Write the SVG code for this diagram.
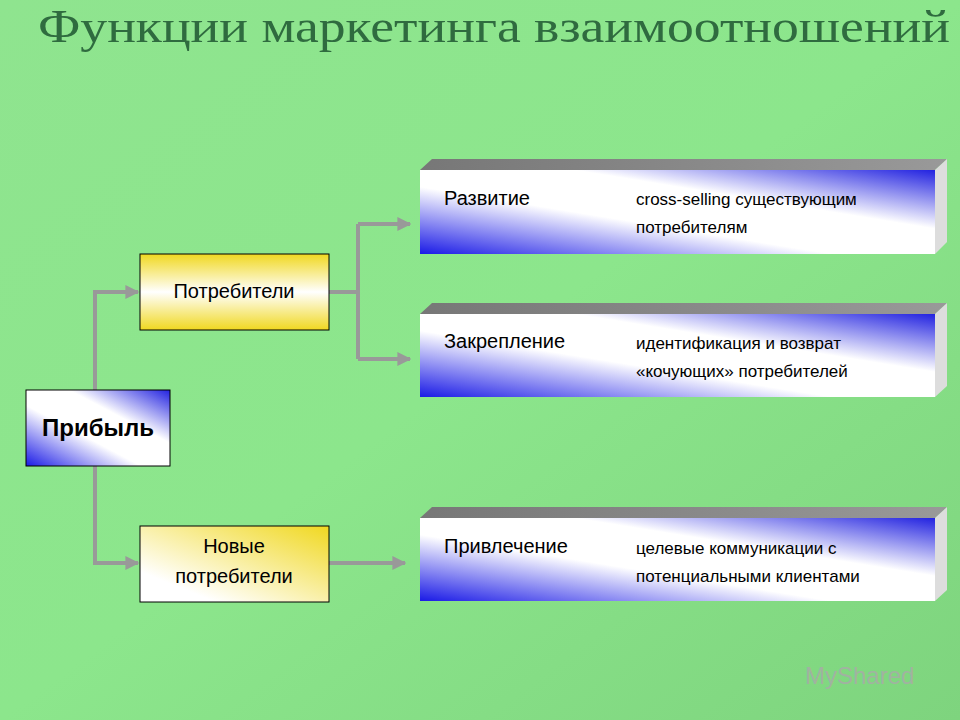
<svg xmlns="http://www.w3.org/2000/svg" width="960" height="720" viewBox="0 0 960 720">
<defs>
<linearGradient id="bg" x1="0" y1="0" x2="1" y2="1"><stop offset="0" stop-color="#8fe48f"/><stop offset="0.5" stop-color="#8ce68c"/><stop offset="1" stop-color="#7ed47e"/></linearGradient>
<linearGradient id="blue" x1="0" y1="1" x2="1" y2="0"><stop offset="0" stop-color="#1a1ae6"/><stop offset="0.4" stop-color="#ffffff"/><stop offset="0.65" stop-color="#ffffff"/><stop offset="1" stop-color="#2222e0"/></linearGradient>
<linearGradient id="yel" x1="0" y1="0" x2="0" y2="1"><stop offset="0" stop-color="#f0d820"/><stop offset="0.5" stop-color="#ffffff"/><stop offset="1" stop-color="#f0d820"/></linearGradient>
<linearGradient id="yel2" x1="0" y1="1" x2="1" y2="0"><stop offset="0.2" stop-color="#ffffff"/><stop offset="1" stop-color="#f0d820"/></linearGradient>
<linearGradient id="top" x1="0" y1="0" x2="1" y2="0"><stop offset="0" stop-color="#777"/><stop offset="1" stop-color="#999"/></linearGradient>
<marker id="ar" viewBox="0 0 10 10" refX="9" refY="5" markerWidth="3.5" markerHeight="3.5" orient="auto"><path d="M0,0 L10,5 L0,10 z" fill="#999"/></marker>
<style>
.t{font-family:"Liberation Sans",Arial,sans-serif;fill:#000}
.c{fill:none;stroke:#999;stroke-width:4}
.b{stroke:#000;stroke-width:1}
</style>
</defs>
<rect width="960" height="720" fill="url(#bg)"/>
<text x="38" y="42" font-family="Liberation Serif,serif" font-size="46" fill="#2f6b3f" textLength="912" lengthAdjust="spacingAndGlyphs">Функции маркетинга взаимоотношений</text>
<text x="805" y="684" font-family="Liberation Sans,sans-serif" font-size="24" fill="#aaaaaa" opacity="0.8">MyShared</text>
<g id="connectors">
<path class="c" d="M95,390 V292 H138" marker-end="url(#ar)"/>
<path class="c" d="M95,466 V563 H138" marker-end="url(#ar)"/>
<path class="c" d="M329,292 H358"/>
<path class="c" d="M358,224 V359"/>
<path class="c" d="M358,224 H410" marker-end="url(#ar)"/>
<path class="c" d="M358,359 H410" marker-end="url(#ar)"/>
<path class="c" d="M329,563 H405" marker-end="url(#ar)"/>
</g>
<g id="pribyl"><rect class="b" x="26" y="390" width="144" height="76" fill="url(#blue)"/><text class="t" x="98" y="436" font-size="24" font-weight="bold" text-anchor="middle">Прибыль</text></g>
<g id="potr"><rect class="b" x="140" y="254" width="189" height="76" fill="url(#yel)"/><text class="t" x="234" y="298" font-size="20" text-anchor="middle">Потребители</text></g>
<g id="novye"><rect class="b" x="140" y="526" width="189" height="76" fill="url(#yel2)"/><text class="t" x="234" y="553" font-size="20" text-anchor="middle">Новые</text><text class="t" x="234" y="583" font-size="20" text-anchor="middle">потребители</text></g>
<g id="razv">
<path d="M420,170 L432,159 H947 L935,170 z" fill="url(#top)"/>
<path d="M935,170 L947,159 V242 L935,254 z" fill="#ddd"/>
<rect x="420" y="170" width="515" height="84" fill="url(#blue)"/>
<text class="t" x="444" y="205" font-size="20">Развитие</text>
<text class="t" x="636" y="205" font-size="17">cross-selling существующим</text>
<text class="t" x="636" y="233" font-size="17">потребителям</text>
</g>
<g id="zakr">
<path d="M420,314 L432,303 H947 L935,314 z" fill="url(#top)"/>
<path d="M935,314 L947,303 V386 L935,397 z" fill="#ddd"/>
<rect x="420" y="314" width="515" height="83" fill="url(#blue)"/>
<text class="t" x="444" y="348" font-size="20">Закрепление</text>
<text class="t" x="636" y="349" font-size="17">идентификация и возврат</text>
<text class="t" x="636" y="377" font-size="17">«кочующих» потребителей</text>
</g>
<g id="privl">
<path d="M420,518 L432,507 H947 L935,518 z" fill="url(#top)"/>
<path d="M935,518 L947,507 V590 L935,601 z" fill="#ddd"/>
<rect x="420" y="518" width="515" height="83" fill="url(#blue)"/>
<text class="t" x="444" y="553" font-size="20">Привлечение</text>
<text class="t" x="636" y="554" font-size="17">целевые коммуникации с</text>
<text class="t" x="636" y="582" font-size="17">потенциальными клиентами</text>
</g>
</svg>
